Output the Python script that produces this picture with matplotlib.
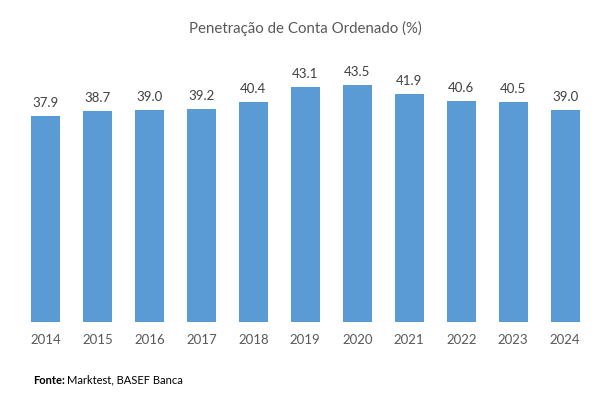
import matplotlib
matplotlib.use("Agg")
import matplotlib.pyplot as plt

years = ["2014", "2015", "2016", "2017", "2018", "2019", "2020", "2021", "2022", "2023", "2024"]
values = [37.9, 38.7, 39.0, 39.2, 40.4, 43.1, 43.5, 41.9, 40.6, 40.5, 39.0]

plt.rcParams['font.family'] = ['Lato', 'DejaVu Sans']
grey = '#595959'

fig = plt.figure(figsize=(6.10, 3.96), dpi=100)
ax = fig.add_axes([0.032, 0.187, 0.937, 0.687])
x = list(range(len(years)))
ax.bar(x, values, width=0.56, color='#5B9BD5')
for xi, v in zip(x, values):
    ax.text(xi, v + 1.3, f"{v:.1f}", ha='center', va='bottom', fontsize=9.5, color='#404040')
ax.set_xlim(-0.5, len(years) - 0.5)
ax.set_ylim(0, 50)
ax.set_xticks(x)
ax.set_xticklabels(years, fontsize=9.5, color=grey)
ax.tick_params(axis='x', length=0, pad=9)
ax.set_yticks([])
for s in ax.spines.values():
    s.set_visible(False)

fig.text(0.5, 0.929, "Penetração de Conta Ordenado (%)", ha='center', va='center', fontsize=10.8, color=grey)
t1 = fig.text(0.054, 0.04, "Fonte:", ha='left', va='center', fontsize=8, color='black', fontweight='bold')
fig.canvas.draw()
bb = t1.get_window_extent()
x1 = bb.x1 / fig.bbox.width
fig.text(x1 + 0.004, 0.04, "Marktest, BASEF Banca", ha='left', va='center', fontsize=8, color='black')
fig.savefig("out.png", dpi=100)
